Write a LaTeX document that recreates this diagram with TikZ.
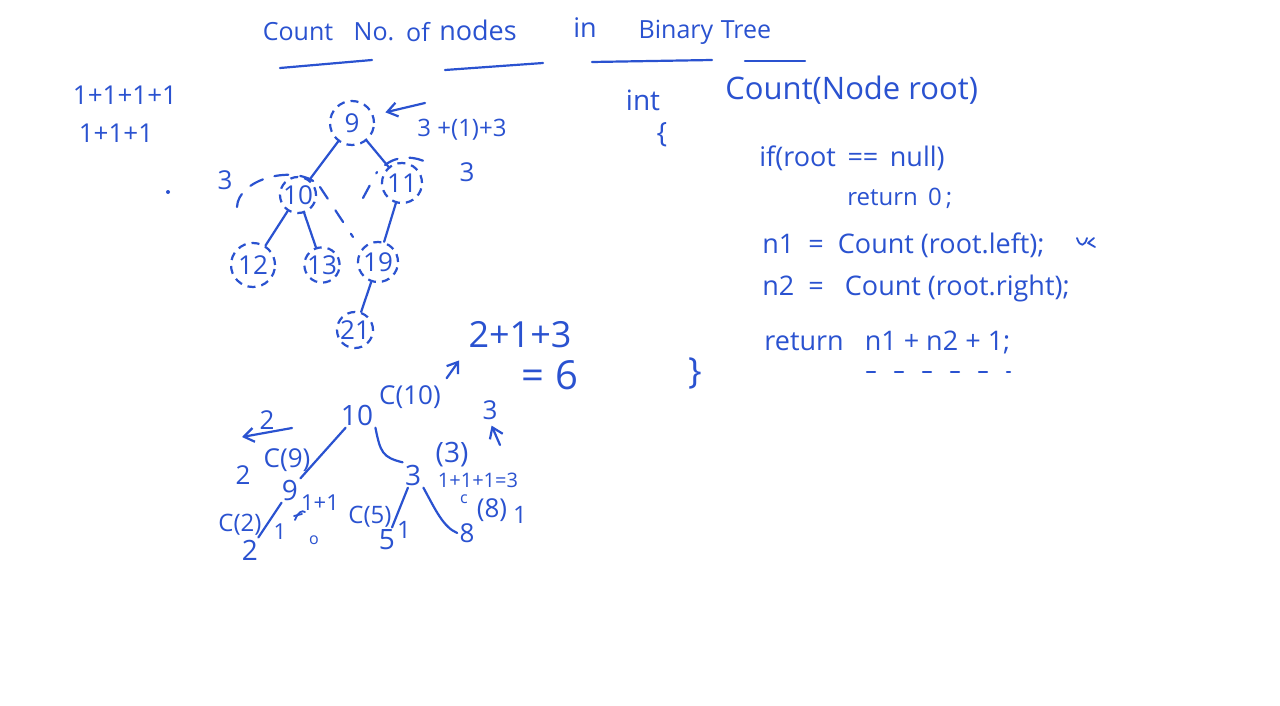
\documentclass[tikz,border=0pt]{standalone}
\usepackage{fontspec}
\setmainfont{Open Sans}
\usetikzlibrary{arrows.meta,positioning}
\definecolor{inkblue}{RGB}{42,82,208}
\tikzset{
  ink/.style={inkblue,line width=1.1pt,line cap=round,line join=round},
  hw/.style={text=inkblue,inner sep=1pt,font=\fontsize{#1}{#1}\selectfont},
  hw/.default=13,
  ring/.style={circle,draw=inkblue,dash pattern=on 4pt off 3pt,line width=1.1pt,
    minimum size=#1,inner sep=0pt,text=inkblue,font=\fontsize{13}{13}\selectfont},
  tip/.style={-{Straight Barb[length=5pt,width=7pt]}},
}

\begin{document}
\begin{tikzpicture}[x=0.5pt,y=-0.5pt]
\useasboundingbox[fill=white] (0,0) rectangle (1280,706);
% title
\node[hw=12.5] (tcount) at (298,32) {Count};
\node[hw=12.5] (tno) at (374,32) {No.};
\node[hw=12.5] (tof) at (418,32) {of};
\node[hw=13.5] (tnodes) at (478,30) {nodes};
\node[hw=13.5] (tin) at (585,28) {in};
\node[hw=12.5] (tbinary) at (676,32) {Binary};
\node[hw=12.5] (ttree) at (746,30) {Tree};
\draw[ink] (280,68) -- (372,60);
\draw[ink] (445,70) -- (543,63);
\draw[ink] (592,62) -- (712,60);
\draw[ink] (745,61) -- (805,61);
% sums on the left
\node[hw=13] (suma) at (125,95) {1+1+1+1};
\node[hw=13] (sumb) at (116,133) {1+1+1};
\fill[inkblue] (168,192) circle (1pt);
% first tree
\node[ring=22pt] (n9) at (352,123) {9};
\node[ring=18pt] (n10) at (298,195) {10};
\node[ring=20pt] (n11) at (402,183) {11};
\node[ring=22pt] (n12) at (253,265) {12};
\node[ring=17pt] (n13) at (322,265) {13};
\node[ring=20pt] (n19) at (378,262) {19};
\node[ring=18pt] (n21) at (355,330) {21};
\draw[ink] (n9) -- (n10);
\draw[ink] (n9) -- (n11);
\draw[ink] (n10) -- (n12);
\draw[ink] (n10) -- (n13);
\draw[ink] (n11) -- (n19);
\draw[ink] (n19) -- (n21);
% subtree marks
\draw[ink,dash pattern=on 7pt off 6pt] (237,207) .. controls (238,180) and (290,165) .. (315,182);
\draw[ink,dash pattern=on 7pt off 7pt] (320,187) -- (353,237);
\draw[ink,dash pattern=on 7pt off 7pt] (363,198) -- (377,172);
\draw[ink,dash pattern=on 7pt off 6pt] (385,165) .. controls (398,155) and (415,156) .. (428,163);
\node[hw=13] (lft3) at (225,180) {3};
\node[hw=12] (rsum) at (462,130) {3 +(1)+3};
\node[hw=13] (rgt3) at (467,172) {3};
\coordinate (ptr) at (425,103);
\draw[ink,tip,shorten >=6pt] (ptr) -- (n9.20);
% second tree
\node[hw=14] (b10) at (357,415) {10};
\node[hw=14] (b9) at (290,490) {9};
\node[hw=14] (b2) at (250,550) {2};
\node[hw=14] (b3) at (413,475) {3};
\node[hw=14] (b5) at (387,540) {5};
\node[hw=13] (b8) at (467,533) {8};
\draw[ink] (b10) -- (b9);
\draw[ink] (b9) -- (b2);
\draw[ink] (b10.south east) .. controls +(5,25) and +(-20,-5) .. (b3.north west);
\draw[ink] (b3) -- (b5);
\draw[ink] (b3.south east) .. controls +(12,22) and +(-14,-6) .. (b8.west);
% calls and results
\node[hw=13] (c10) at (410,397) {C(10)};
\node[hw=18] (tot) at (520,335) {2+1+3};
\node[hw=20] (six) at (550,375) {= 6};
\draw[ink,tip,shorten <=3pt,shorten >=6pt] (c10.north east) -- (tot.south west);
\node[hw=13] (l2) at (267,420) {2};
\coordinate (la) at (292,428);
\coordinate (lb) at (242,437);
\draw[ink,tip] (la) -- (lb);
\node[hw=13] (c9v) at (243,475) {2};
\node[hw=13] (c9) at (287,460) {C(9)};
\node[hw=12] (c2) at (240,525) {C(2)};
\node[hw=11] (one2) at (280,532) {1};
\node[hw=11] (p11) at (320,503) {1+1};
\draw[ink,line width=0.9pt] (295,520) .. controls (298,512) and (302,510) .. (305,512);
\draw[ink,line width=0.9pt] (294,516) -- (302,514);
\node[hw=8] (zero) at (314,540) {o};
\node[hw=12] (c5) at (370,517) {C(5)};
\node[hw=12] (one5) at (404,530) {1};
\node[hw=14] (c3) at (452,455) {(3)};
\node[hw=10] (p111) at (478,480) {1+1+1=3};
\node[hw=13] (up3) at (490,410) {3};
\coordinate (upa) at (500,445);
\draw[ink,tip,shorten >=2pt] (upa) -- (up3.south);
\node[hw=8] (csm) at (464,499) {c};
\node[hw=13] (c8) at (492,510) {(8)};
\node[hw=12] (one8) at (520,515) {1};
% code
\node[hw=14] (kint) at (643,100) {int};
\node[hw=14] (lbr) at (662,135) {\{};
\node[hw=15.5,anchor=west] (sig) at (723,90) {Count(Node root)};
\node[hw=13.5,anchor=west] (cif) at (757,158) {if(root \,==\, null)};
\node[hw=12,anchor=west] (cret0) at (845,198) {return \,0\,;};
\node[hw=13.5,anchor=west] (cn1) at (760,245) {n1 \ = \ Count (root.left);};
\node[hw=13.5,anchor=west] (cn2) at (760,288) {n2 \ = \ \ Count (root.right);};
\node[hw=13.5,anchor=west] (cret) at (762,342) {return \ \ n1 + n2 + 1;};
\draw[ink,line width=0.9pt] (1077,238) .. controls (1080,248) and (1085,246) .. (1087,238);
\draw[ink,line width=0.9pt] (1094,238) -- (1088,243) -- (1095,247);
\draw[ink,dash pattern=on 4pt off 10pt] (867,372) -- (1010,372);
\node[hw=18] (rbr) at (695,373) {\}};
\end{tikzpicture}
\end{document}
